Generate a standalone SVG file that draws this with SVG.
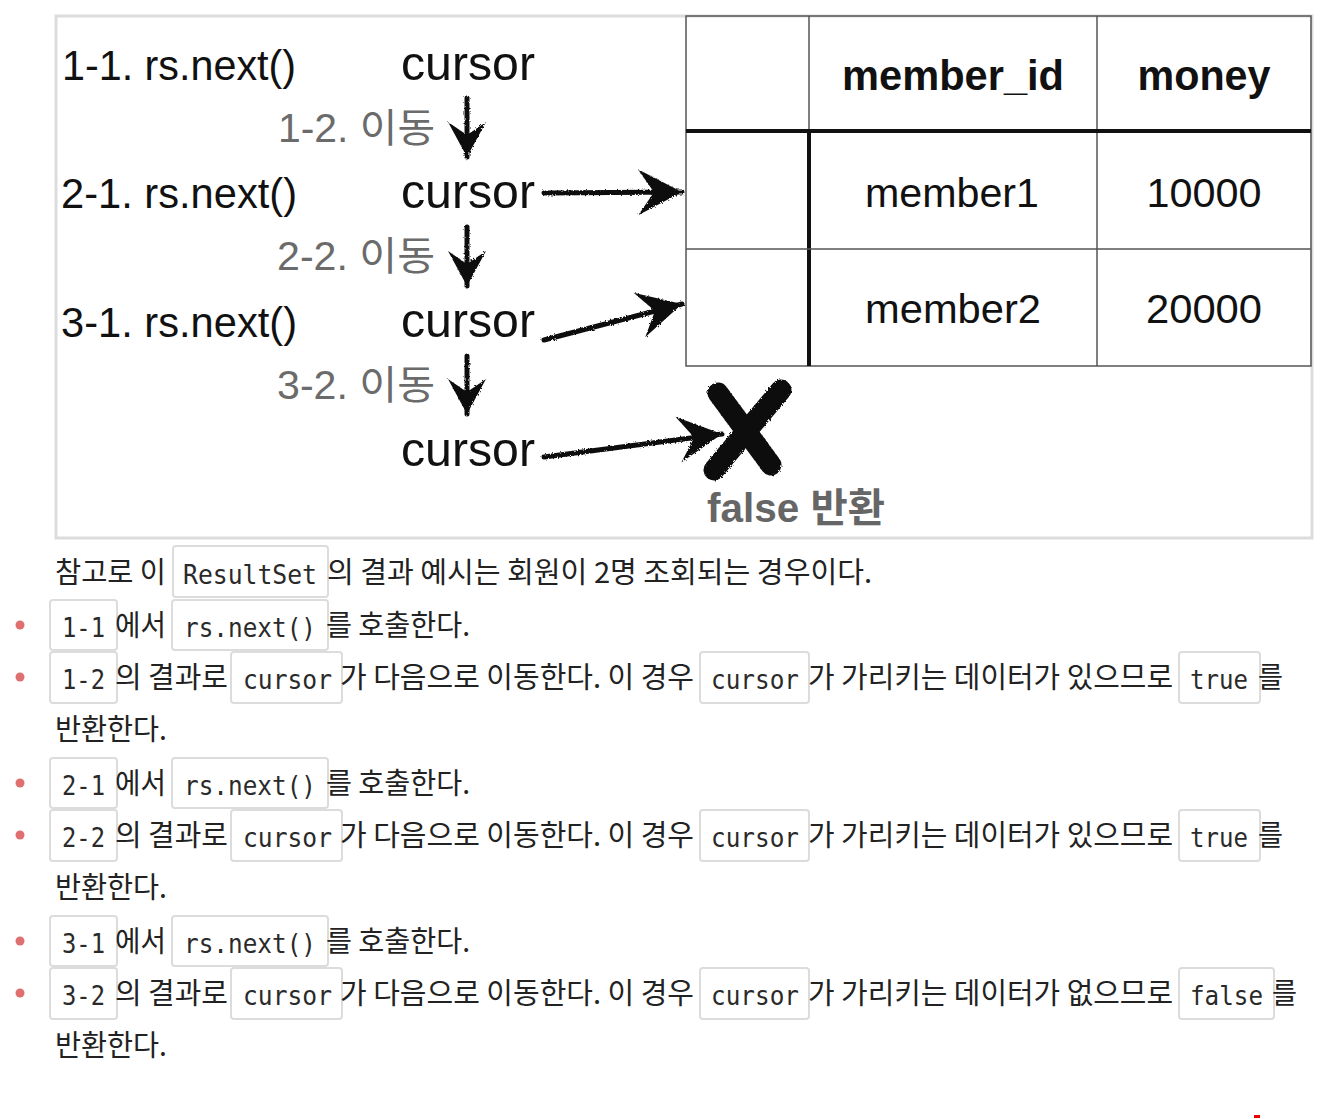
<svg xmlns="http://www.w3.org/2000/svg" width="1331" height="1119" viewBox="0 0 1331 1119">
<style>
.dg{font-family:"Liberation Sans","Noto Sans CJK KR",sans-serif;}
.big{font-size:42px;fill:#111;}
.cur{font-size:49px;fill:#111;}
.mv{font-size:40px;fill:#6b6b6b;}
.th{font-size:42px;font-weight:bold;fill:#111;text-anchor:middle;}
.td{font-size:41px;fill:#111;text-anchor:middle;}
.kr{font-family:"Noto Sans CJK KR","Noto Sans",sans-serif;font-size:29px;fill:#222;}
.code{font-family:"DejaVu Sans Mono","Liberation Mono",monospace;font-size:27px;fill:#2a2a2a;}
.box{fill:#fff;stroke:#dcdcdc;stroke-width:2;}
.dot{fill:#e07070;}
.shaft{fill:none;stroke:#111;stroke-width:5;stroke-linecap:round;}
.thin{stroke:#555;stroke-width:1.5;fill:none;}
.thick{stroke:#111;stroke-width:4;fill:none;}
</style>
<defs>
<filter id="rough" filterUnits="userSpaceOnUse" x="0" y="0" width="1331" height="1119">
<feTurbulence type="fractalNoise" baseFrequency="0.6" numOctaves="2" seed="3"/>
<feDisplacementMap in="SourceGraphic" scale="3"/>
</filter>
<marker id="headL" markerUnits="userSpaceOnUse" markerWidth="60" markerHeight="60" viewBox="-50 -30 60 60" refX="0" refY="0" orient="auto">
<path d="M0,0 L-44,-23 L-28,0 L-44,23 Z" fill="#111"/>
</marker>
<marker id="headS" markerUnits="userSpaceOnUse" markerWidth="50" markerHeight="50" viewBox="-40 -25 50 50" refX="0" refY="0" orient="auto">
<path d="M0,0 L-35,-19 L-22,0 L-35,19 Z" fill="#111"/>
</marker>
</defs>
<rect width="1331" height="1119" fill="#fff"/>

<g id="panel">
<rect x="56" y="16" width="1256" height="522" fill="#fff" stroke="#dcdcdc" stroke-width="3"/>
</g>

<g id="table" class="dg">
<rect x="686" y="16" width="625" height="350" class="thin"/>
<line x1="1097" y1="16" x2="1097" y2="366" class="thin"/>
<line x1="809" y1="16" x2="809" y2="131" class="thin"/>
<line x1="809" y1="131" x2="809" y2="366" class="thick" stroke-width="3"/>
<line x1="686" y1="249" x2="1311" y2="249" class="thin"/>
<line x1="686" y1="131" x2="1311" y2="131" class="thick"/>
<text x="953" y="90" class="th" textLength="222" lengthAdjust="spacingAndGlyphs">member_id</text>
<text x="1204" y="90" class="th" textLength="133" lengthAdjust="spacingAndGlyphs">money</text>
<text x="952" y="207" class="td" textLength="174" lengthAdjust="spacingAndGlyphs">member1</text>
<text x="1204" y="207" class="td" textLength="115" lengthAdjust="spacingAndGlyphs">10000</text>
<text x="953" y="323" class="td" textLength="176" lengthAdjust="spacingAndGlyphs">member2</text>
<text x="1204" y="323" class="td" textLength="116" lengthAdjust="spacingAndGlyphs">20000</text>
</g>

<g id="labels" class="dg">
<text x="62" y="80" class="big" textLength="234" lengthAdjust="spacingAndGlyphs">1-1. rs.next()</text>
<text x="401" y="80" class="cur" textLength="134" lengthAdjust="spacingAndGlyphs">cursor</text>
<text x="278" y="142" class="mv" textLength="157" lengthAdjust="spacingAndGlyphs">1-2. 이동</text>
<text x="61" y="208" class="big" textLength="236" lengthAdjust="spacingAndGlyphs">2-1. rs.next()</text>
<text x="401" y="208" class="cur" textLength="134" lengthAdjust="spacingAndGlyphs">cursor</text>
<text x="277" y="270" class="mv" textLength="158" lengthAdjust="spacingAndGlyphs">2-2. 이동</text>
<text x="61" y="337" class="big" textLength="236" lengthAdjust="spacingAndGlyphs">3-1. rs.next()</text>
<text x="401" y="337" class="cur" textLength="134" lengthAdjust="spacingAndGlyphs">cursor</text>
<text x="277" y="399" class="mv" textLength="158" lengthAdjust="spacingAndGlyphs">3-2. 이동</text>
<text x="401" y="466" class="cur" textLength="134" lengthAdjust="spacingAndGlyphs">cursor</text>
<text x="707" y="522" font-size="40" font-weight="bold" fill="#666" textLength="178" lengthAdjust="spacingAndGlyphs">false 반환</text>
</g>

<g id="connectors" filter="url(#rough)">
<path d="M467,98 L467,157" class="shaft" marker-end="url(#headS)"/>
<path d="M467,227 L467,286" class="shaft" marker-end="url(#headS)"/>
<path d="M467,356 L467,414" class="shaft" marker-end="url(#headS)"/>
<path d="M544,193 L682,192" class="shaft" marker-end="url(#headL)"/>
<path d="M544,340 L682,304" class="shaft" marker-end="url(#headL)"/>
<path d="M544,457 L722,434" class="shaft" marker-end="url(#headL)"/>
</g>

<g id="xmark" filter="url(#rough)">
<path d="M718,393 L771,465" stroke="#111" stroke-width="21" stroke-linecap="round" fill="none"/>
<path d="M781,390 L714,470" stroke="#111" stroke-width="21" stroke-linecap="round" fill="none"/>
</g>

<g id="intro">
<text x="55" y="583" class="kr" textLength="111" lengthAdjust="spacingAndGlyphs">참고로 이</text>
<rect x="173" y="546" width="155" height="51" rx="3" class="box"/>
<text x="183" y="584" class="code" textLength="134" lengthAdjust="spacingAndGlyphs">ResultSet</text>
<text x="327" y="583" class="kr" textLength="545" lengthAdjust="spacingAndGlyphs">의 결과 예시는 회원이 2명 조회되는 경우이다.</text>
</g>

<g id="item1">
<circle cx="20" cy="625" r="4.5" class="dot"/>
<rect x="50" y="600" width="67" height="50" rx="3" class="box"/>
<text x="62" y="637" class="code" textLength="43" lengthAdjust="spacingAndGlyphs">1-1</text>
<text x="115" y="636" class="kr" textLength="51" lengthAdjust="spacingAndGlyphs">에서</text>
<rect x="172" y="600" width="156" height="50" rx="3" class="box"/>
<text x="184" y="637" class="code" textLength="132" lengthAdjust="spacingAndGlyphs">rs.next()</text>
<text x="326" y="636" class="kr" textLength="144" lengthAdjust="spacingAndGlyphs">를 호출한다.</text>
</g>

<g id="item2">
<circle cx="20" cy="677" r="4.5" class="dot"/>
<rect x="50" y="652" width="67" height="51" rx="3" class="box"/>
<text x="62" y="689" class="code" textLength="43" lengthAdjust="spacingAndGlyphs">1-2</text>
<text x="115" y="688" class="kr" textLength="113" lengthAdjust="spacingAndGlyphs">의 결과로</text>
<rect x="231" y="652" width="111" height="51" rx="3" class="box"/>
<text x="243" y="689" class="code" textLength="89" lengthAdjust="spacingAndGlyphs">cursor</text>
<text x="340" y="688" class="kr" textLength="354" lengthAdjust="spacingAndGlyphs">가 다음으로 이동한다. 이 경우</text>
<rect x="700" y="652" width="109" height="51" rx="3" class="box"/>
<text x="711" y="689" class="code" textLength="88" lengthAdjust="spacingAndGlyphs">cursor</text>
<text x="808" y="688" class="kr" textLength="365" lengthAdjust="spacingAndGlyphs">가 가리키는 데이터가 있으므로</text>
<rect x="1179" y="652" width="81" height="51" rx="3" class="box"/>
<text x="1190" y="689" class="code" textLength="58" lengthAdjust="spacingAndGlyphs">true</text>
<text x="1258" y="688" class="kr" textLength="25" lengthAdjust="spacingAndGlyphs">를</text>
<text x="55" y="740" class="kr" textLength="112" lengthAdjust="spacingAndGlyphs">반환한다.</text>
</g>

<g id="item3">
<circle cx="20" cy="783" r="4.5" class="dot"/>
<rect x="50" y="758" width="67" height="50" rx="3" class="box"/>
<text x="62" y="795" class="code" textLength="43" lengthAdjust="spacingAndGlyphs">2-1</text>
<text x="115" y="794" class="kr" textLength="51" lengthAdjust="spacingAndGlyphs">에서</text>
<rect x="172" y="758" width="156" height="50" rx="3" class="box"/>
<text x="184" y="795" class="code" textLength="132" lengthAdjust="spacingAndGlyphs">rs.next()</text>
<text x="326" y="794" class="kr" textLength="144" lengthAdjust="spacingAndGlyphs">를 호출한다.</text>
</g>

<g id="item4">
<circle cx="20" cy="835" r="4.5" class="dot"/>
<rect x="50" y="810" width="67" height="51" rx="3" class="box"/>
<text x="62" y="847" class="code" textLength="43" lengthAdjust="spacingAndGlyphs">2-2</text>
<text x="115" y="846" class="kr" textLength="113" lengthAdjust="spacingAndGlyphs">의 결과로</text>
<rect x="231" y="810" width="111" height="51" rx="3" class="box"/>
<text x="243" y="847" class="code" textLength="89" lengthAdjust="spacingAndGlyphs">cursor</text>
<text x="340" y="846" class="kr" textLength="354" lengthAdjust="spacingAndGlyphs">가 다음으로 이동한다. 이 경우</text>
<rect x="700" y="810" width="109" height="51" rx="3" class="box"/>
<text x="711" y="847" class="code" textLength="88" lengthAdjust="spacingAndGlyphs">cursor</text>
<text x="808" y="846" class="kr" textLength="365" lengthAdjust="spacingAndGlyphs">가 가리키는 데이터가 있으므로</text>
<rect x="1179" y="810" width="81" height="51" rx="3" class="box"/>
<text x="1190" y="847" class="code" textLength="58" lengthAdjust="spacingAndGlyphs">true</text>
<text x="1258" y="846" class="kr" textLength="25" lengthAdjust="spacingAndGlyphs">를</text>
<text x="55" y="898" class="kr" textLength="112" lengthAdjust="spacingAndGlyphs">반환한다.</text>
</g>

<g id="item5">
<circle cx="20" cy="941" r="4.5" class="dot"/>
<rect x="50" y="916" width="67" height="50" rx="3" class="box"/>
<text x="62" y="953" class="code" textLength="43" lengthAdjust="spacingAndGlyphs">3-1</text>
<text x="115" y="952" class="kr" textLength="51" lengthAdjust="spacingAndGlyphs">에서</text>
<rect x="172" y="916" width="156" height="50" rx="3" class="box"/>
<text x="184" y="953" class="code" textLength="132" lengthAdjust="spacingAndGlyphs">rs.next()</text>
<text x="326" y="952" class="kr" textLength="144" lengthAdjust="spacingAndGlyphs">를 호출한다.</text>
</g>

<g id="item6">
<circle cx="20" cy="993" r="4.5" class="dot"/>
<rect x="50" y="968" width="67" height="51" rx="3" class="box"/>
<text x="62" y="1005" class="code" textLength="43" lengthAdjust="spacingAndGlyphs">3-2</text>
<text x="115" y="1004" class="kr" textLength="113" lengthAdjust="spacingAndGlyphs">의 결과로</text>
<rect x="231" y="968" width="111" height="51" rx="3" class="box"/>
<text x="243" y="1005" class="code" textLength="89" lengthAdjust="spacingAndGlyphs">cursor</text>
<text x="340" y="1004" class="kr" textLength="354" lengthAdjust="spacingAndGlyphs">가 다음으로 이동한다. 이 경우</text>
<rect x="700" y="968" width="109" height="51" rx="3" class="box"/>
<text x="711" y="1005" class="code" textLength="88" lengthAdjust="spacingAndGlyphs">cursor</text>
<text x="808" y="1004" class="kr" textLength="365" lengthAdjust="spacingAndGlyphs">가 가리키는 데이터가 없으므로</text>
<rect x="1179" y="968" width="95" height="51" rx="3" class="box"/>
<text x="1190" y="1005" class="code" textLength="73" lengthAdjust="spacingAndGlyphs">false</text>
<text x="1272" y="1004" class="kr" textLength="25" lengthAdjust="spacingAndGlyphs">를</text>
<text x="55" y="1056" class="kr" textLength="112" lengthAdjust="spacingAndGlyphs">반환한다.</text>
</g>

<rect x="1254" y="1115" width="6" height="3" fill="#e00"/>
</svg>
